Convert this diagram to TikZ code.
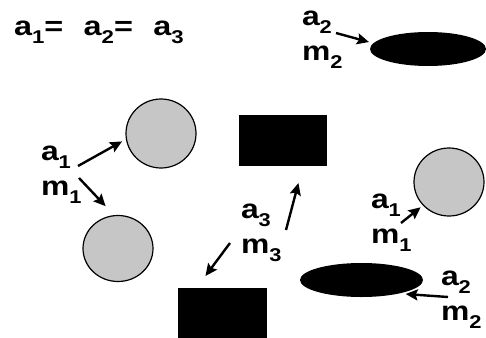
\documentclass[tikz,border=0pt]{standalone}
\usepackage{fontspec}
\setmainfont{Liberation Sans}
\usetikzlibrary{arrows.meta,shapes.geometric,calc}
\newcommand\sbs[1]{\raisebox{-8pt}{\fontsize{18.5}{18.5}\selectfont #1}}
\newcommand\lblpair[2]{\scalebox{1.18}[1]{\begin{tabular}[t]{@{}l@{}}#1\\#2\end{tabular}}}
\begin{document}
\begin{tikzpicture}[x=1pt,y=-1pt,
  lab/.style={anchor=base west, inner sep=0pt, outer sep=0pt, font=\fontsize{27}{35}\selectfont\bfseries},
  disc/.style={ellipse, draw=black, line width=1.2pt, fill=gray!45, inner sep=0pt, outer sep=0pt},
  blob/.style={ellipse, fill=black, inner sep=0pt, outer sep=0pt},
  block/.style={rectangle, fill=black, inner sep=0pt, outer sep=0pt},
  arr/.style={line width=2.4pt, -{Stealth[length=12pt,width=11pt,inset=2pt]}}]
\useasboundingbox (0,0) rectangle (486,337);

% shapes
\node[disc, minimum width=70pt, minimum height=69pt] (c1) at (161,133.5) {};
\node[disc, minimum width=70pt, minimum height=66pt] (c2) at (118,248.5) {};
\node[disc, minimum width=70pt, minimum height=68pt] (c3) at (449,182) {};
\node[blob, minimum width=116pt, minimum height=34pt] (e1) at (428,49) {};
\node[blob, minimum width=123pt, minimum height=34pt] (e2) at (361.5,280) {};
\node[block, minimum width=88pt, minimum height=51pt] (r1) at (283,140.5) {};
\node[block, minimum width=89pt, minimum height=52pt] (r2) at (222.5,314) {};

% labels
\node[lab] (eq) at (14,35) {\scalebox{1.2}[1]{a\sbs1=\hspace{17pt}a\sbs2=\hspace{17pt}a\sbs3}};
\node[lab] (L1) at (41,160) {\lblpair{a\sbs1}{m\sbs1}};
\node[lab] (L2) at (302,26) {\lblpair{a\sbs2}{m\sbs2}};
\node[lab] (L3) at (241,218) {\lblpair{a\sbs3}{m\sbs3}};
\node[lab] (L4) at (371,208) {\lblpair{a\sbs1}{m\sbs1}};
\node[lab] (L5) at (441,285) {\lblpair{a\sbs2}{m\sbs2}};

% arrow starts
\coordinate (s1) at (78,166);
\coordinate (s2) at (79,178);
\coordinate (s3) at (286,230);
\coordinate (s4) at (230,243);
\coordinate (s5) at (336,33);
\coordinate (s6) at (401,223);
\coordinate (s7) at (448,297);

% arrows
\draw[arr, shorten >=5pt] (s1) -- (c1.189);
\draw[arr, shorten >=13pt] (s2) -- (c2.96);
\draw[arr, shorten >=17.6pt] (s3) -- (r1.-52.3);
\draw[arr, shorten >=15pt] (s4) -- (r2.135.7);
\draw[arr, shorten >=4.6pt] (s5) -- (e1.174);
\draw[arr, shorten >=3.5pt] (s6) -- (c3.222);
\draw[arr, shorten >=7pt] (s7) -- (e2.-20);
\end{tikzpicture}
\end{document}
